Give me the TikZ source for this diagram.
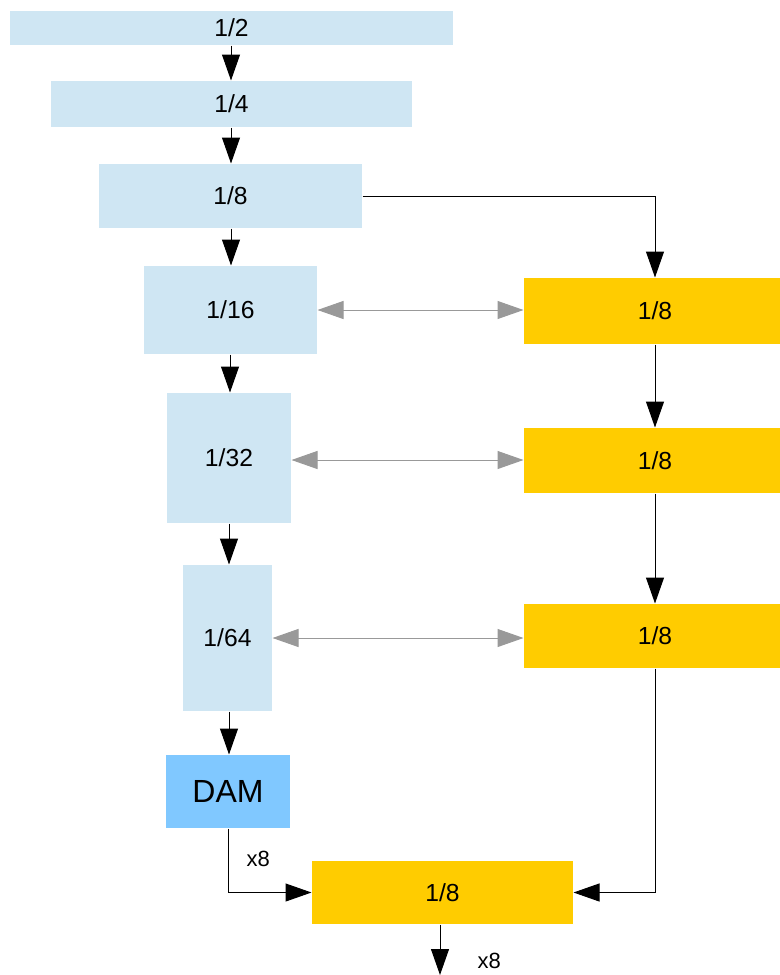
\documentclass[tikz,border=0pt]{standalone}
\usepackage{fontspec}
\setmainfont{Liberation Sans}
\usetikzlibrary{arrows.meta}
\definecolor{encblue}{RGB}{207,230,243}
\definecolor{damblue}{RGB}{128,200,255}
\definecolor{decgold}{RGB}{255,204,0}
\definecolor{linkgray}{RGB}{153,153,153}
\tikzset{every picture/.style={line width=0.75pt}}
\tikzset{
  boxsize/.style 2 args={minimum width=#1*0.75pt, minimum height=#2*0.75pt},
  encbox/.style={fill=encblue, inner sep=0pt, font=\fontsize{18.5}{22}\selectfont},
  decbox/.style={fill=decgold, inner sep=0pt, font=\fontsize{18.5}{22}\selectfont},
  dambox/.style={fill=damblue, inner sep=0pt, font=\fontsize{24}{29}\selectfont},
  flow/.style={-{Triangle[length=19.5pt, width=13.5pt]}, black},
  skip/.style={{Triangle[length=19.5pt, width=13.5pt]}-{Triangle[length=19.5pt, width=13.5pt]}, linkgray},
  note/.style={inner sep=0pt, font=\fontsize{16.5}{20}\selectfont}
}

\begin{document}
\begin{tikzpicture}[x=0.75pt,y=0.75pt,yscale=-1,xscale=1]
\useasboundingbox (0,0) rectangle (779,975);

%Shape: Rectangle (encoder)
\node [encbox, boxsize={443}{34}] (e2) at (231.5,28) {1/2};
\node [encbox, boxsize={361}{46}] (e4) at (231.5,104) {1/4};
\node [encbox, boxsize={263}{64}] (e8) at (230.5,196) {1/8};
\node [encbox, boxsize={173}{88}] (e16) at (230.5,310) {1/16};
\node [encbox, boxsize={124}{130}] (e32) at (229,458) {1/32};
\node [encbox, boxsize={89}{146}] (e64) at (227.5,638) {1/64};
%Shape: Rectangle (DAM)
\node [dambox, boxsize={124}{73}] (dam) at (228,791.5) {DAM};

%Shape: Rectangle (decoder)
\node [decbox, boxsize={262}{66}] (d1) at (655,311) {1/8};
\node [decbox, boxsize={262}{65}] (d2) at (655,460.5) {1/8};
\node [decbox, boxsize={262}{64}] (d3) at (655,636) {1/8};
\node [decbox, boxsize={261}{63}] (dout) at (442.5,892.5) {1/8};
\coordinate (out) at (440,975);

%Straight Lines (encoder column)
\draw [flow] (e2.south -| 231,0) -- (e4.north -| 231,0);
\draw [flow] (e4.south -| 231,0) -- (e8.north -| 231,0);
\draw [flow] (e8.south -| 231,0) -- (e16.north -| 231,0);
\draw [flow] (e16.south -| 230,0) -- (e32.north -| 230,0);
\draw [flow] (e32.south -| 229,0) -- (e64.north -| 229,0);
\draw [flow] (e64.south -| 229,0) -- (dam.north -| 229,0);

%Straight Lines (decoder column)
\draw [flow] (e8.east) -| (d1.north);
\draw [flow] (d1.south) -- (d2.north);
\draw [flow] (d2.south) -- (d3.north);
\draw [flow] (d3.south) |- (dout.east);
\draw [flow] (dam.south) |- (dout.west);
\draw [flow] (dout.south -| out) -- (out);

%Straight Lines (skip links)
\draw [skip] (e16.east) -- (e16.east -| d1.west);
\draw [skip] (e32.east |- 0,460) -- (d2.west |- 0,460);
\draw [skip] (e64.east) -- (e64.east -| d3.west);

% Text Node
\node [note, anchor=west] (rep1) at (246,859) {x8};
\node [note, anchor=west] (rep2) at (477,961) {x8};

\end{tikzpicture}
\end{document}
